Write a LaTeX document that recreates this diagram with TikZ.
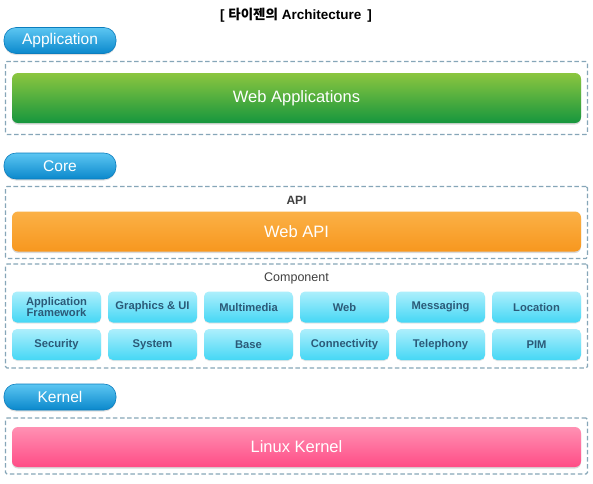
\documentclass[tikz,border=0pt]{standalone}
\usepackage{fontspec}
\setmainfont{Liberation Sans}
\newfontfamily\krfont{Noto Sans CJK KR}
\usetikzlibrary{shadows}
\definecolor{pillTop}{HTML}{5CC6F2}
\definecolor{pillBot}{HTML}{0A88CC}
\definecolor{pillEdge}{HTML}{0B7DBE}
\definecolor{greenTop}{HTML}{8CC63F}
\definecolor{greenBot}{HTML}{16963E}
\definecolor{orangeTop}{HTML}{FBB146}
\definecolor{orangeBot}{HTML}{F7971F}
\definecolor{pinkTop}{HTML}{FF91B3}
\definecolor{pinkBot}{HTML}{FF4C86}
\definecolor{cyanTop}{HTML}{ADEFFC}
\definecolor{cyanBot}{HTML}{45D7F5}
\definecolor{cyanText}{HTML}{2B5A78}
\definecolor{dashCol}{HTML}{86A6B8}
\definecolor{labelGray}{HTML}{404040}
\tikzset{
  pill/.style={rounded corners=12pt, draw=pillEdge, line width=0.6pt,
    top color=pillTop, bottom color=pillBot, minimum width=112pt, minimum height=26pt,
    inner sep=0pt, text=white, font=\fontsize{15.5}{17}\selectfont,
    drop shadow={shadow xshift=0pt, shadow yshift=-1.5pt, opacity=0.25}},
  groupbox/.style={draw=dashCol, line width=1.2pt, dash pattern=on 4.5pt off 2.6pt,
    rounded corners=1.5pt, minimum width=582pt, inner sep=0pt},
  bar/.style={rounded corners=6pt, minimum width=569pt, inner sep=0pt, text=white,
    font=\fontsize{16.5}{18}\selectfont,
    drop shadow={shadow xshift=0pt, shadow yshift=-1.5pt, opacity=0.3}},
  comp/.style={rounded corners=5pt, top color=cyanTop, bottom color=cyanBot,
    minimum width=89pt, minimum height=31pt, inner sep=0pt, text=cyanText,
    font=\bfseries\fontsize{11.2}{12}\selectfont, align=center,
    drop shadow={shadow xshift=0pt, shadow yshift=-1pt, opacity=0.2}},
  sectlabel/.style={text=labelGray, inner sep=0pt, font=\bfseries\fontsize{12}{14}\selectfont}
}
\begin{document}
\begin{tikzpicture}[x=1pt,y=-1pt]
\useasboundingbox[fill=white] (0,0) rectangle (593,483);
% title
\node[inner sep=0pt, font=\bfseries\fontsize{13.5}{15}\selectfont] (title) at (296,15) {[ {\krfont\bfseries 타이젠의} Architecture \,]};
% Application
\node[pill] (applbl) at (60,40.5) {Application};
\node[groupbox, minimum height=73pt] (appbox) at (296.5,98) {};
\node[bar, top color=greenTop, bottom color=greenBot, minimum height=50pt] (webapps) at (296.5,98) {Web Applications};
% Core
\node[pill] (corelbl) at (60,166) {Core};
\node[groupbox, minimum height=72pt] (apibox) at (296.5,222.5) {};
\node[sectlabel] (apilbl) at (296.5,200) {API};
\node[bar, top color=orangeTop, bottom color=orangeBot, minimum height=40pt] (webapi) at (296.5,231.5) {Web API};
\node[groupbox, minimum height=104pt] (compbox) at (296.5,316) {};
\node[sectlabel, font=\fontsize{12.5}{14}\selectfont] (complbl) at (296.5,278) {Component};
% components
\node[comp] (c1) at (56.5,307) {Application\\[-1pt]Framework};
\node[comp] (c2) at (152.5,307) {Graphics \& UI};
\node[comp] (c3) at (248.5,307) {Multimedia};
\node[comp] (c4) at (344.5,307) {Web};
\node[comp] (c5) at (440.5,307) {Messaging};
\node[comp] (c6) at (536.5,307) {Location};
\node[comp] (d1) at (56.5,344.5) {Security};
\node[comp] (d2) at (152.5,344.5) {System};
\node[comp] (d3) at (248.5,344.5) {Base};
\node[comp] (d4) at (344.5,344.5) {Connectivity};
\node[comp] (d5) at (440.5,344.5) {Telephony};
\node[comp] (d6) at (536.5,344.5) {PIM};
% Kernel
\node[pill] (kernlbl) at (60,397) {Kernel};
\node[groupbox, minimum height=56pt] (kernbox) at (296.5,446) {};
\node[bar, top color=pinkTop, bottom color=pinkBot, minimum height=40pt] (linux) at (296.5,447) {Linux Kernel};
\end{tikzpicture}
\end{document}
